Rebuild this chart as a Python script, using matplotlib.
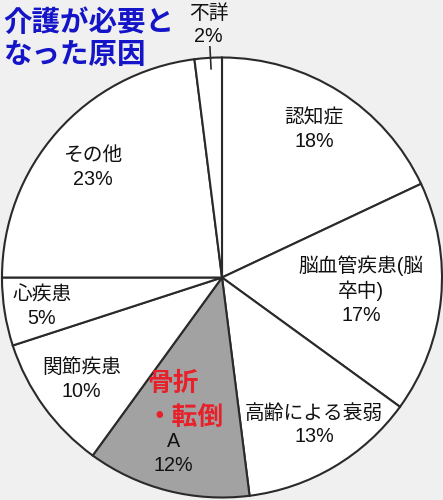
import numpy as np
import matplotlib
matplotlib.use("Agg")
import matplotlib.pyplot as plt

plt.rcParams['font.family'] = ['Liberation Sans', 'Noto Sans CJK JP', 'DejaVu Sans']

# ---- data ----
categories = ["認知症", "脳血管疾患(脳\n卒中)", "高齢による衰弱", "A", "関節疾患", "心疾患", "その他", "不詳"]
values = [18, 17, 13, 12, 10, 5, 23, 2]
pct_labels = ["18%", "17%", "13%", "12%", "10%", "5%", "23%", "2%"]
title_text = "介護が必要と\nなった原因"
answer_text = "骨折\n・転倒"

# ---- style / layout ----
W, H, DPI = 443, 500, 100
cx_px, cy_px, r_px = 222, 277.5, 220
bg = "#f0f0f0"
slice_colors = ["white", "white", "white", "#a2a2a2", "white", "white", "white", "white"]
# label placement: (radius fraction, angle offset in degrees from wedge mid-angle)
label_place = [(0.79, 0.4), (0.635, 0.3), (0.79, 1.4), (0.83, -1.1),
               (0.79, 0.0), (0.83, 0.3), (0.77, 0.9), (1.15, -0.6)]

fig = plt.figure(figsize=(W / DPI, H / DPI), dpi=DPI, facecolor=bg)
ax = fig.add_axes([0, 0, 1, 1])
ax.set_facecolor(bg)

wedges, _ = ax.pie(values, colors=slice_colors, startangle=90, counterclock=False,
                   wedgeprops=dict(edgecolor="#2a2a2a", linewidth=1.5))

for w, cat, pct, (rf, off) in zip(wedges, categories, pct_labels, label_place):
    mid = np.deg2rad((w.theta1 + w.theta2) / 2 + off)
    x, y = rf * np.cos(mid), rf * np.sin(mid)
    ax.text(x, y, cat + "\n" + pct, ha="center", va="center", fontsize=14.2,
            color="#111111", linespacing=1.3)

# leader line for the small slice
w = wedges[-1]
mid = np.deg2rad((w.theta1 + w.theta2) / 2 - 0.6)
ax.plot([0.95 * np.cos(mid), 1.05 * np.cos(mid)], [0.95 * np.sin(mid), 1.05 * np.sin(mid)],
        color="#2a2a2a", lw=1.2)

# red answer text on slice A
ax.text((147 - cx_px) / r_px, (cy_px - 401) / r_px, answer_text, ha="left", va="center",
        fontsize=18.5, fontweight="bold", color="#e8202a", linespacing=1.5)

ax.set_xlim(-cx_px / r_px, (W - cx_px) / r_px)
ax.set_ylim(-(H - cy_px) / r_px, cy_px / r_px)
ax.set_aspect("equal", adjustable="box")
ax.axis("off")

fig.text(3 / W, 1 - 39 / H, title_text, ha="left", va="center", fontsize=20.5,
         fontweight="bold", color="#1414c8", linespacing=1.3)

fig.savefig("out.png", dpi=DPI, facecolor=bg)
